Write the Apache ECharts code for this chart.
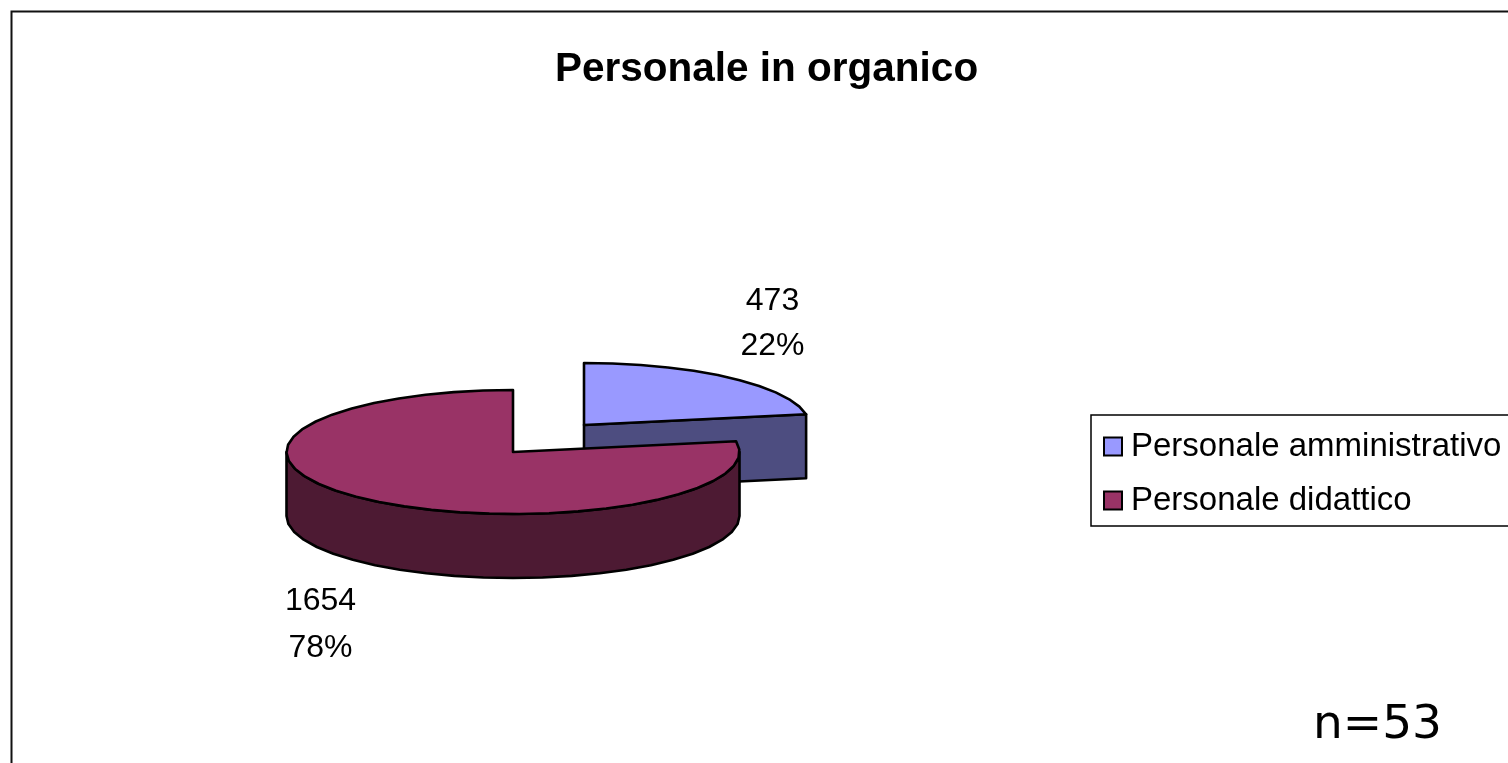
<!DOCTYPE html>
<html>
<head>
<meta charset="utf-8">
<style>html,body{margin:0;padding:0;background:#fff;overflow:hidden}#c{width:1508px;height:763px}</style>
<script src="https://cdn.jsdelivr.net/npm/echarts@6/dist/echarts.min.js"></script>
</head>
<body>
<div id="c"></div>
<script>
const titleText = 'Personale in organico';
const categories = ['Personale amministrativo', 'Personale didattico'];
const counts = [473, 1654];
const colors = ['#9999FF', '#993366'];
const noteText = 'n=53';

const total = counts.reduce((a, b) => a + b, 0);
const sliceLayout = [
  { cx: 584, cy: 425, rx: 225.5, ry: 62, labelX: 772.5, labelY: [301, 346] },
  { cx: 513, cy: 452, rx: 226.5, ry: 62, labelX: 320.5, labelY: [601, 648] }
];
const depth = 64;
const STEP = 7.5;
const font = '"Liberation Sans", Arial, sans-serif';

function shade(hex) {
  const n = parseInt(hex.slice(1), 16);
  const h = v => Math.round(v / 2).toString(16).padStart(2, '0');
  return '#' + h((n >> 16) & 255) + h((n >> 8) & 255) + h(n & 255);
}
function arcPoints(g, a0, a1, dy) {
  const pts = [];
  const n = Math.max(1, Math.round((a1 - a0) / STEP));
  for (let i = 0; i <= n; i++) {
    const t = (a0 + (a1 - a0) * i / n) * Math.PI / 180;
    pts.push([g.cx + g.rx * Math.sin(t), g.cy - g.ry * Math.cos(t) + dy]);
  }
  return pts;
}
function makeRender(idx) {
  return function (params, api) {
    const g = sliceLayout[idx];
    const value = api.value(0);
    const before = counts.slice(0, idx).reduce((a, b) => a + b, 0);
    const a0 = before / total * 360;
    const a1 = (before + value) / total * 360;
    const fill = colors[idx];
    const dark = shade(fill);
    const stroke = { stroke: '#000', lineWidth: 2.6, lineJoin: 'round' };
    const children = [];
    // radial face at the end of the slice
    if (a1 > 0 && a1 < 180) {
      const tip = arcPoints(g, a1, a1, 0)[0];
      children.push({
        type: 'polygon',
        shape: { points: [[g.cx, g.cy], tip, [tip[0], tip[1] + depth], [g.cx, g.cy + depth]] },
        style: Object.assign({ fill: dark }, stroke)
      });
    }
    // outer wall on the visible front half
    const w0 = Math.max(a0, 90), w1 = Math.min(a1, 270);
    if (w1 > w0) {
      const top = arcPoints(g, w0, w1, 0);
      const bottom = arcPoints(g, w0, w1, depth).reverse();
      children.push({
        type: 'polygon',
        shape: { points: top.concat(bottom) },
        style: Object.assign({ fill: dark }, stroke)
      });
    }
    // top face
    children.push({
      type: 'polygon',
      shape: { points: [[g.cx, g.cy]].concat(arcPoints(g, a0, a1, 0)) },
      style: Object.assign({ fill: fill }, stroke)
    });
    // data label
    const lines = [String(value), Math.round(value / total * 100) + '%'];
    lines.forEach((text, i) => children.push({
      type: 'text',
      style: {
        x: g.labelX, y: g.labelY[i], text: text,
        font: '32px ' + font, fill: '#000',
        textAlign: 'center', textVerticalAlign: 'middle'
      }
    }));
    return { type: 'group', children: children };
  };
}

const chart = echarts.init(document.getElementById('c'), null, { renderer: 'canvas' });
chart.setOption({
  animation: false,
  backgroundColor: '#fff',
  title: {
    text: titleText,
    left: 555, top: 49, padding: 0,
    textStyle: { fontFamily: font, fontWeight: 'bold', fontSize: 40.5, color: '#000' }
  },
  legend: {
    orient: 'vertical',
    left: 1091, top: 415,
    padding: [15, 60, 9, 12],
    data: categories,
    icon: 'rect',
    itemWidth: 18, itemHeight: 18, itemGap: 21,
    itemStyle: { borderColor: '#000', borderWidth: 2 },
    backgroundColor: '#fff',
    borderColor: '#000', borderWidth: 1.5,
    selectedMode: false,
    textStyle: { fontFamily: font, fontSize: 33, color: '#000', padding: [0, 0, 0, 4] }
  },
  graphic: [
    { type: 'polyline', z: -1, shape: { points: [[11.5, 770], [11.5, 11.5], [1520, 11.5]] },
      style: { stroke: '#111', lineWidth: 2, fill: null } },
    { type: 'text', left: 1313, top: 702,
      style: { text: noteText, font: '47px "DejaVu Sans"', fill: '#000' } }
  ],
  series: categories.map((name, i) => ({
    type: 'custom',
    name: name,
    coordinateSystem: 'none',
    itemStyle: { color: colors[i] },
    renderItem: makeRender(i),
    data: [[counts[i]]],
    silent: true
  }))
});
</script>
</body>
</html>
